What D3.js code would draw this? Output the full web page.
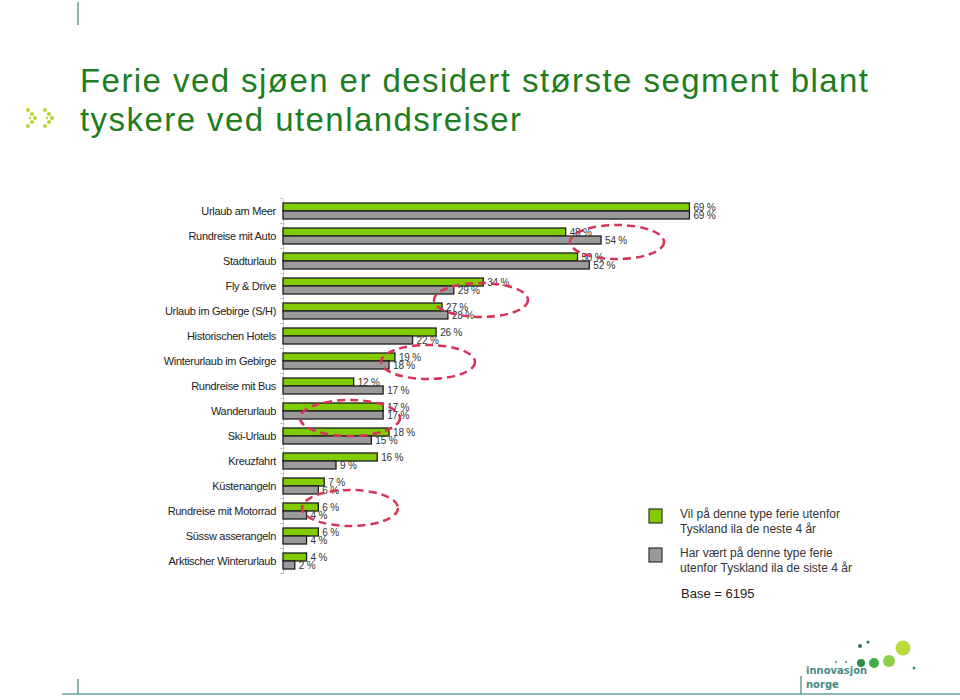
<!DOCTYPE html>
<html><head><meta charset="utf-8">
<script src="https://cdn.jsdelivr.net/npm/d3@7"></script>
<style>body{margin:0;background:#fff}svg{display:block}</style>
</head><body>
<svg id="c" width="960" height="700"></svg>
<script>
const categories = ["Urlaub am Meer","Rundreise mit Auto","Stadturlaub","Fly & Drive","Urlaub im Gebirge (S/H)","Historischen Hotels","Winterurlaub im Gebirge","Rundreise mit Bus","Wanderurlaub","Ski-Urlaub","Kreuzfahrt","Küstenangeln","Rundreise mit Motorrad","Süssw asserangeln","Arktischer Winterurlaub"];
const nextFour = [69,48,50,34,27,26,19,12,17,18,16,7,6,6,4];
const lastFour = [69,54,52,29,28,22,18,17,17,15,9,6,4,4,2];
const seriesNames = ["Vil på denne type ferie utenfor|Tyskland ila de neste 4 år","Har vært på denne type ferie|utenfor Tyskland ila de siste 4 år"];
const titleLines = ["Ferie ved sjøen er desidert største segment blant","tyskere ved utenlandsreiser"];
const baseText = "Base = 6195";

const svg = d3.select("#c");
const GREEN="#80cc00", GRAY="#9a9a9a", EDGE="#1e1e1e";

// decorations
svg.append("line").attr("x1",78).attr("x2",78).attr("y1",2).attr("y2",25).attr("stroke","#6a9a9c").attr("stroke-width",1.5);
svg.append("line").attr("x1",62).attr("x2",960).attr("y1",694).attr("y2",694).attr("stroke","#8bb8b4").attr("stroke-width",2);
svg.append("line").attr("x1",78).attr("x2",78).attr("y1",679).attr("y2",694).attr("stroke","#6a9a9c").attr("stroke-width",1.5);
// small chevron logo
const chev = [[0,0],[4,4],[7,8],[4,12],[0,16],[2,8]];
[[28,108],[45,108]].forEach(([ox,oy])=>{
  chev.forEach(([dx,dy],i)=>svg.append("circle").attr("cx",ox+dx).attr("cy",oy+dy+2).attr("r",i==5?1.2:2.1).attr("fill","#b8d63a"));
});

// title
titleLines.forEach((t,i)=>{
  svg.append("text").attr("x",80).attr("y",92+i*39).text(t)
    .attr("font-family","Liberation Sans, Arial, sans-serif").attr("font-size",33)
    .attr("fill","#1f7d1f")
    .attr("textLength", i==0?788:441).attr("lengthAdjust","spacing");
});

// scales
const x0 = 283;
const x = d3.scaleLinear().domain([0,100]).range([x0, x0+589]);
const y = d3.scaleBand().domain(categories).range([198.5,573.5]).padding(0);

// axis
const ax = svg.append("g").attr("transform",`translate(${x0},0)`)
  .call(d3.axisLeft(y).tickSize(0).tickFormat(""));
ax.select(".domain").attr("stroke","#c4c4c4").attr("stroke-width",1);
const tg = svg.append("g");
categories.concat(["_end"]).forEach((c,i)=>{
  const yy = 198.5 + i*y.step();
  tg.append("line").attr("x1",x0-3).attr("x2",x0).attr("y1",yy).attr("y2",yy).attr("stroke","#c4c4c4");
});

// category labels
svg.append("g").selectAll("text").data(categories).join("text")
  .attr("x",276).attr("y",d=>y(d)+y.bandwidth()/2).attr("dy","0.35em")
  .attr("text-anchor","end").attr("font-family","Liberation Sans, Arial, sans-serif")
  .attr("font-size",11).attr("letter-spacing",-0.3).attr("fill","#222").text(d=>d);

// bars
const rows = categories.map((c,i)=>({c, a:nextFour[i], b:lastFour[i]}));
const g = svg.append("g");
g.selectAll("rect.a").data(rows).join("rect").attr("class","a")
  .attr("x",x0).attr("y",d=>y(d.c)+y.bandwidth()/2-8).attr("height",8)
  .attr("width",d=>x(d.a)-x0).attr("fill",GREEN).attr("stroke",EDGE).attr("stroke-width",1.3);
g.selectAll("rect.b").data(rows).join("rect").attr("class","b")
  .attr("x",x0).attr("y",d=>y(d.c)+y.bandwidth()/2).attr("height",8)
  .attr("width",d=>x(d.b)-x0).attr("fill",GRAY).attr("stroke",EDGE).attr("stroke-width",1.3);

// value labels
const lf = {"font-family":"Liberation Sans, Arial, sans-serif","font-size":10,"fill":"#333"};
function lab(sel){Object.entries(lf).forEach(([k,v])=>sel.attr(k,v));sel.attr("letter-spacing",-0.2);return sel;}
lab(g.selectAll("text.a").data(rows).join("text").attr("class","a")
  .attr("x",d=>x(d.a)+4).attr("y",d=>y(d.c)+y.bandwidth()/2-4).attr("dy","0.35em").text(d=>d.a+" %"));
lab(g.selectAll("text.b").data(rows).join("text").attr("class","b")
  .attr("x",d=>x(d.b)+4).attr("y",d=>y(d.c)+y.bandwidth()/2+4).attr("dy","0.35em").text(d=>d.b+" %"));

// dashed highlight ellipses
const ell = [[617,242,47,17],[481,300,47,17],[428,362,47,17],[350,418,50,18],[350,508,48,18]];
svg.append("g").selectAll("ellipse").data(ell).join("ellipse")
  .attr("cx",d=>d[0]).attr("cy",d=>d[1]).attr("rx",d=>d[2]).attr("ry",d=>d[3])
  .attr("fill","none").attr("stroke","#d8345a").attr("stroke-width",2.5).attr("stroke-dasharray","8,5");

// legend
const leg = svg.append("g");
[GREEN,GRAY].forEach((col,i)=>{
  const yy = 509 + i*39;
  leg.append("rect").attr("x",649).attr("y",yy).attr("width",13).attr("height",14)
    .attr("fill",col).attr("stroke","#333").attr("stroke-width",1.2);
  seriesNames[i].split("|").forEach((t,j)=>{
    leg.append("text").attr("x",680).attr("y",yy+9+j*14.5).text(t)
      .attr("font-family","Liberation Sans, Arial, sans-serif").attr("font-size",12).attr("fill","#333");
  });
});
leg.append("text").attr("x",681).attr("y",598).text(baseText)
  .attr("font-family","Liberation Sans, Arial, sans-serif").attr("font-size",13).attr("fill","#222");

// bottom-right logo
const lg = svg.append("g");
[[903,648,7.5,"#b9dc3c"],[889,661,6,"#8fcf4a"],[874,663,5,"#3fae4a"],[861,663,4,"#2e8b48"],
 [860,646,2,"#2e7a48"],[868,642,1.5,"#2e7a48"],[836,662,1.2,"#8aa"],[846,662,1.2,"#8aa"],[914,668,1.5,"#4a8a86"]]
 .forEach(d=>lg.append("circle").attr("cx",d[0]).attr("cy",d[1]).attr("r",d[2]).attr("fill",d[3]));
lg.append("text").attr("x",806).attr("y",674).text("innovasjon")
  .attr("font-family","DejaVu Sans, sans-serif").attr("font-weight","bold").attr("font-size",10).attr("fill","#4a8a86");
lg.append("text").attr("x",806).attr("y",688).text("norge")
  .attr("font-family","DejaVu Sans, sans-serif").attr("font-weight","bold").attr("font-size",10).attr("fill","#4a8a86");
lg.append("line").attr("x1",801).attr("x2",801).attr("y1",676).attr("y2",694).attr("stroke","#6a9a9c").attr("stroke-width",1.5);
</script>
</body></html>
